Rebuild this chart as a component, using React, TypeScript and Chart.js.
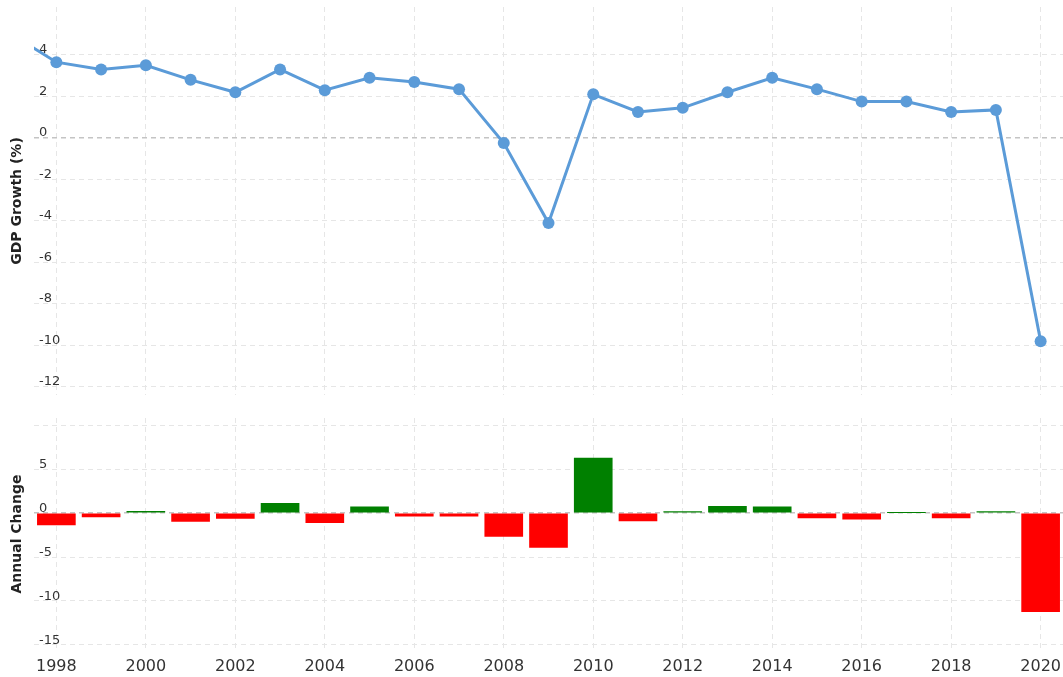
import React, { useEffect, useRef } from "react";
import { Chart, registerables } from "chart.js";

Chart.register(...registerables);

const years = [1997, 1998, 1999, 2000, 2001, 2002, 2003, 2004, 2005, 2006, 2007, 2008, 2009, 2010, 2011, 2012, 2013, 2014, 2015, 2016, 2017, 2018, 2019, 2020];
const gdpGrowth = [5.0, 3.65, 3.3, 3.5, 2.8, 2.2, 3.3, 2.3, 2.9, 2.7, 2.35, -0.25, -4.1, 2.1, 1.25, 1.45, 2.2, 2.9, 2.35, 1.75, 1.75, 1.25, 1.35, -9.8];
const changeYears = [1998, 1999, 2000, 2001, 2002, 2003, 2004, 2005, 2006, 2007, 2008, 2009, 2010, 2011, 2012, 2013, 2014, 2015, 2016, 2017, 2018, 2019, 2020];
const annualChange = [-1.35, -0.45, 0.2, -0.95, -0.6, 1.1, -1.1, 0.7, -0.35, -0.35, -2.65, -3.9, 6.25, -0.9, 0.15, 0.75, 0.7, -0.55, -0.7, 0.05, -0.55, 0.15, -11.2];
const xTicks = [1998, 2000, 2002, 2004, 2006, 2008, 2010, 2012, 2014, 2016, 2018, 2020];
const gdpTicks = [4, 2, 0, -2, -4, -6, -8, -10, -12];
const changeTicks = [10, 5, 0, -5, -10, -15];
const changeTickLabels = ["", "5", "0", "-5", "-10", "-15"];

const FONT = "'DejaVu Sans', Verdana, sans-serif";
const LINE = "#5b9bd8";
const GRID = "#e6e6e6";
const ZERO = "#c4c4c4";

function noPad(s: any) {
  s.paddingTop = 0;
  s.paddingBottom = 0;
  s.paddingLeft = 0;
  s.paddingRight = 0;
}

function xScale(showLabels: boolean): any {
  return {
    type: "linear",
    min: 1997.5,
    max: 2020.5,
    offset: false,
    afterBuildTicks: (s: any) => {
      s.ticks = xTicks.map((v) => ({ value: v }));
    },
    afterFit: (s: any) => {
      s.height = showLabels ? 27 : 0;
      noPad(s);
    },
    grid: { color: GRID, drawTicks: false, lineWidth: 1, offset: false },
    border: { display: false, dash: [5, 4] },
    ticks: {
      display: showLabels,
      autoSkip: false,
      maxRotation: 0,
      padding: 7,
      color: "#333",
      font: { family: FONT, size: 16 },
      callback: (v: any) => String(v),
    },
  };
}

function yScale(min: number, max: number, tickVals: number[], labels: string[], title: string, offset: number): any {
  return {
    type: "linear",
    min,
    max,
    afterBuildTicks: (s: any) => {
      s.ticks = tickVals.map((v) => ({ value: v }));
    },
    afterFit: (s: any) => {
      s.width = 34;
      noPad(s);
    },
    grid: {
      drawTicks: false,
      color: (c: any) => (c.tick && c.tick.value === 0 ? ZERO : GRID),
      lineWidth: (c: any) => (c.tick && c.tick.value === 0 ? 1.5 : 1),
    },
    border: { display: false, dash: [5, 4] },
    title: {
      display: true,
      text: title,
      color: "#222",
      font: { family: FONT, size: 14, weight: "bold" },
      padding: { top: 9, bottom: 0 },
    },
    ticks: {
      mirror: true,
      padding: 5,
      labelOffset: offset,
      color: "#333",
      font: { family: FONT, size: 13 },
      callback: (v: any) => {
        const i = tickVals.indexOf(v);
        return i >= 0 ? labels[i] : "";
      },
    },
  };
}

export default function App() {
  const topRef = useRef<HTMLCanvasElement>(null);
  const botRef = useRef<HTMLCanvasElement>(null);

  useEffect(() => {
    document.body.style.margin = "0";
    const top = new Chart(topRef.current!, {
      type: "line",
      data: {
        datasets: [
          {
            data: years.map((y, i) => ({ x: y, y: gdpGrowth[i] })),
            borderColor: LINE,
            backgroundColor: LINE,
            borderWidth: 3,
            pointRadius: 6,
            pointBorderWidth: 0,
            pointBackgroundColor: LINE,
            tension: 0,
          },
        ],
      },
      options: {
        animation: false,
        responsive: false,
        maintainAspectRatio: false,
        layout: { autoPadding: false, padding: { top: 7, bottom: 5, left: 0, right: 0 } },
        plugins: { legend: { display: false }, tooltip: { enabled: false } },
        scales: {
          x: xScale(false),
          y: yScale(-12.39, 6.31, gdpTicks, gdpTicks.map(String), "GDP Growth (%)", -5),
        },
      },
    });
    const bot = new Chart(botRef.current!, {
      type: "bar",
      data: {
        datasets: [
          {
            data: changeYears.map((y, i) => ({ x: y, y: annualChange[i] })),
            backgroundColor: annualChange.map((v) => (v >= 0 ? "#008000" : "#ff0000")),
            borderWidth: 0,
            barThickness: 38,
          },
        ],
      },
      options: {
        animation: false,
        responsive: false,
        maintainAspectRatio: false,
        layout: { autoPadding: false, padding: { top: 18, bottom: 0, left: 0, right: 0 } },
        plugins: { legend: { display: false }, tooltip: { enabled: false } },
        scales: {
          x: xScale(true),
          y: yScale(-15.57, 10.8, changeTicks, changeTickLabels, "Annual Change", -4),
        },
      },
    });
    return () => {
      top.destroy();
      bot.destroy();
    };
  }, []);

  return (
    <div style={{ position: "relative", width: 1063, height: 677, background: "#fff" }}>
      <canvas ref={topRef} width={1063} height={400} style={{ position: "absolute", left: 0, top: 0 }} />
      <canvas ref={botRef} width={1063} height={277} style={{ position: "absolute", left: 0, top: 400 }} />
    </div>
  );
}
